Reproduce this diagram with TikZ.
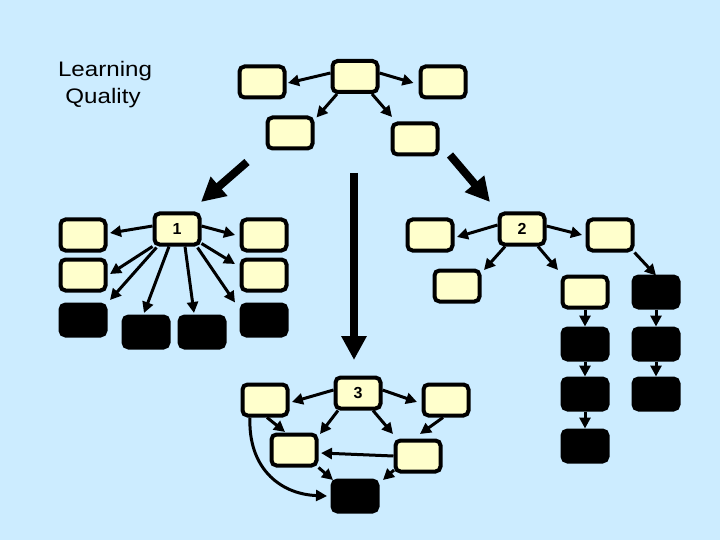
\documentclass[tikz,border=0pt]{standalone}
\usepackage{fontspec}
\setmainfont{Liberation Sans}
\usetikzlibrary{arrows.meta,calc}
\definecolor{bgblue}{RGB}{204,236,255}
\definecolor{cream}{RGB}{255,255,204}
\begin{document}
\begin{tikzpicture}[x=1pt,y=-1pt,
  box/.style={draw=black,line width=4pt,rounded corners=5pt,fill=cream,minimum width=45pt,minimum height=31pt,inner sep=0pt,font=\fontsize{16}{16}\selectfont\bfseries},
  blk/.style={box,fill=black},
  arr/.style={line width=3pt,-{Triangle[length=11pt,width=11pt]}},
  bigarr/.style={line width=8pt,-{Triangle[length=24pt,width=24pt]}},
  lbl/.style={font=\fontsize{21}{21}\selectfont,xscale=1.15,anchor=base,inner sep=0pt}
]
\fill[bgblue] (0,0) rectangle (720,540);
\useasboundingbox (0,0) rectangle (720,540);

% title
\node[lbl] (lq1) at (105,77) {Learning};
\node[lbl] (lq2) at (103,104) {Quality};

% top group
\node[box] (t0) at (355,76.5) {};
\node[box] (t1) at (262,82) {};
\node[box] (t2) at (443,82) {};
\node[box] (t3) at (290,133) {};
\node[box] (t4) at (415,139) {};
\draw[arr] ($(t0.west)+(0,-3.5)$) -- ($(t1.east)+(1.5,1)$);
\draw[arr] ($(t0.east)+(0,-3.5)$) -- ($(t2.west)+(-5,1)$);
\draw[arr] ($(t0.south)+(-18,0)$) -- ($(t3.north east)+(2,2)$);
\draw[arr] ($(t0.south)+(17,0)$) -- ($(t4.north west)+(1.5,-4.5)$);

% big arrows
\coordinate (bl0) at (247,162);
\coordinate (bl1) at (201,202);
\coordinate (br0) at (450,155);
\coordinate (br1) at (490,202);
\coordinate (bm0) at (354,173);
\coordinate (bm1) at (354,360);
\draw[bigarr] (bl0) -- (bl1);
\draw[bigarr] (br0) -- (br1);
\draw[bigarr] (bm0) -- (bm1);

% group 1
\node[box] (g1) at (177,229) {1};
\node[box] (a1) at (83,235) {};
\node[box] (a2) at (83,275) {};
\node[blk] (a3) at (83,320) {};
\node[blk] (b1) at (146,332) {};
\node[blk] (b2) at (202,332) {};
\node[box] (c1) at (264,235) {};
\node[box] (c2) at (264,275) {};
\node[blk] (c3) at (264,320) {};
\draw[arr] ($(g1.west)+(0,-3)$) -- ($(a1.east)+(2.5,-2)$);
\draw[arr] (g1.south west) -- ($(a2.east)+(2.5,-1)$);
\draw[arr] ($(g1.south west)+(4,1)$) -- ($(a3.north east)+(2.5,-2.5)$);
\draw[arr] ($(g1.south)+(-8,0)$) -- ($(b1.north)+(-2,-1.5)$);
\draw[arr] ($(g1.south)+(8,0)$) -- ($(b2.north)+(-8,-1.5)$);
\draw[arr] ($(g1.east)+(0,-3)$) -- ($(c1.west)+(-4.5,0)$);
\draw[arr] ($(g1.south east)+(0,-3)$) -- ($(c2.west)+(-4.5,-11)$);
\draw[arr] ($(g1.south east)+(-4,1)$) -- ($(c3.north west)+(-4.5,0)$);

% group 2
\node[box] (g2) at (522,229) {2};
\node[box] (d1) at (430,235) {};
\node[box] (d2) at (457,286) {};
\node[box] (d3) at (610,235) {};
\node[box] (e1) at (585,292) {};
\node[blk] (e2) at (585,344) {};
\node[blk] (e3) at (585,394) {};
\node[blk] (e4) at (585,446) {};
\node[blk] (f1) at (656,292) {};
\node[blk] (f2) at (656,344) {};
\node[blk] (f3) at (656,394) {};
\draw[arr] ($(g2.west)+(0,-4)$) -- ($(d1.east)+(2.5,2)$);
\draw[arr] ($(g2.south)+(-17,0)$) -- ($(d2.north east)+(2.5,1.5)$);
\draw[arr] ($(g2.south)+(16,0)$) -- ($(e1.north west)+(-2.5,-4.5)$);
\draw[arr] ($(g2.east)+(0,-3)$) -- ($(d3.west)+(-3.5,0)$);
\draw[arr] (d3.south east) -- ($(f1.north)+(0,1)$);
\draw[arr] (e1.south) -- (e2.north);
\draw[arr] (e2.south) -- (e3.north);
\draw[arr] (e3.south) -- (e4.north);
\draw[arr] (f1.south) -- (f2.north);
\draw[arr] (f2.south) -- (f3.north);

% group 3
\node[box] (g3) at (358,393) {3};
\node[box] (h1) at (265,400) {};
\node[box] (h2) at (446,400) {};
\node[box] (i1) at (294,450) {};
\node[box] (i2) at (418,456) {};
\node[blk] (k) at (355,496) {};
\draw[arr] ($(g3.west)+(0,-3)$) -- ($(h1.east)+(2.5,2)$);
\draw[arr] ($(g3.east)+(0,-3)$) -- ($(h2.west)+(-4.5,2)$);
\draw[arr] ($(g3.south)+(-20,0)$) -- ($(i1.north east)+(1.5,1.5)$);
\draw[arr] ($(g3.south)+(15,0)$) -- ($(i2.north west)+(-0.5,-4.5)$);
\draw[arr] ($(h1.south)+(2,0)$) -- ($(i1.north)+(-9,-0.5)$);
\draw[arr] ($(h2.south)+(-3,0)$) -- ($(i2.north)+(2,-4.5)$);
\draw[arr] (i2.west) -- ($(i1.east)+(2.5,3)$);
\draw[arr] (i1.south east) -- ($(k.north west)+(2.5,1.5)$);
\draw[arr] ($(i2.south west)+(0.5,-3.5)$) -- ($(k.north east)+(3.5,1.5)$);
\draw[arr] ($(h1.south)+(-15,0)$) .. controls (248,466) and (278,494) .. ($(k.west)+(-3.5,0)$);
\end{tikzpicture}
\end{document}
